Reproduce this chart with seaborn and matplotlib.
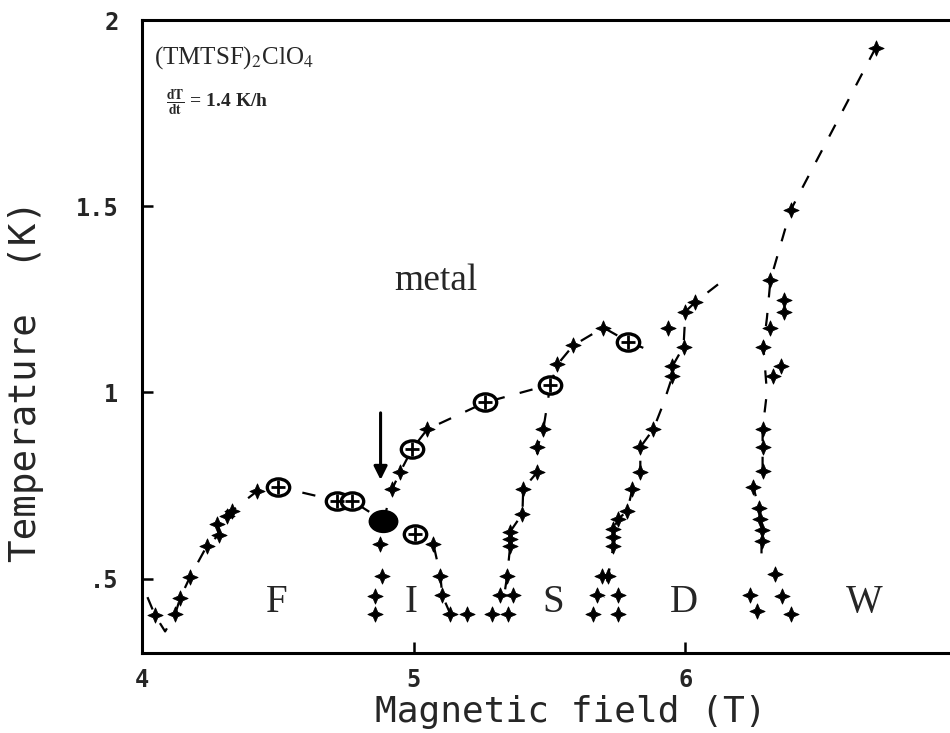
import matplotlib
matplotlib.use("Agg")
import matplotlib.pyplot as plt
import pandas as pd
import seaborn as sns

from matplotlib.path import Path
from matplotlib.transforms import Affine2D

# Phase boundaries of (TMTSF)2ClO4: field (T), temperature (K), mark
# mark: '+' cross, 'o' boxed cross, 'b' merged blob, '' dashed line only
f_field = [4.02, 4.048, 4.085, 4.122, 4.140, 4.177, 4.239, 4.284, 4.276,
           4.313, 4.331, 4.424, 4.501, 4.718, 4.773, 4.888]
f_temp = [0.45, 0.401, 0.358, 0.404, 0.447, 0.505, 0.588, 0.618, 0.647,
          0.668, 0.682, 0.735, 0.746, 0.709, 0.709, 0.655]
f_mark = ['', '+', '', '+', '+', '+', '+', '+', '+',
          '+', '+', '+', 'o', 'o', 'o', 'b']

metal_field = [4.888, 4.921, 4.950, 4.994, 5.050, 5.263, 5.503, 5.529,
               5.587, 5.698, 5.790, 5.86]
metal_temp = [0.655, 0.741, 0.786, 0.848, 0.901, 0.973, 1.021, 1.075,
              1.126, 1.174, 1.136, 1.115]
metal_mark = ['', '+', '+', 'o', '+', 'o', 'o', '+', '+', '+', 'o', '']

i_field = [4.888, 5.006, 5.072, 5.098, 5.105, 5.134]
i_temp = [0.655, 0.620, 0.594, 0.508, 0.455, 0.406]
i_mark = ['', 'o', '+', '+', '+', '+']

s_field = [5.503, 5.477, 5.455, 5.455, 5.403, 5.400, 5.355, 5.355, 5.355,
           5.344, 5.33]
s_temp = [1.021, 0.901, 0.853, 0.786, 0.741, 0.674, 0.626, 0.607, 0.588,
          0.508, 0.44]
s_mark = ['', '+', '+', '+', '+', '+', '+', '+', '+', '+', '']

d_field = [6.12, 6.037, 6.000, 5.993, 5.952, 5.952, 5.919, 5.882, 5.834,
           5.834, 5.805, 5.786, 5.753, 5.735, 5.735, 5.735, 5.716, 5.70]
d_temp = [1.29, 1.243, 1.217, 1.123, 1.070, 1.043, 0.97, 0.901, 0.853,
          0.786, 0.741, 0.682, 0.660, 0.634, 0.612, 0.588, 0.508, 0.45]
d_mark = ['', '+', '+', '+', '+', '+', '', '+', '+',
          '+', '+', '+', '+', '+', '+', '+', '+', '']

w_field = [6.700, 6.387, 6.313, 6.30, 6.287, 6.30, 6.284, 6.284, 6.284,
           6.250, 6.27, 6.275, 6.28, 6.28, 6.28]
w_temp = [1.925, 1.489, 1.302, 1.20, 1.123, 1.0, 0.901, 0.853, 0.789,
          0.746, 0.69, 0.66, 0.63, 0.60, 0.54]
w_mark = ['+', '+', '+', '', '+', '', '+', '+', '+',
          '+', '+', '+', '+', '+', '']

# crosses not joined by a line
loose_field = [4.877, 4.884, 4.858, 4.858, 5.197, 5.289, 5.348, 5.319, 5.366,
               5.694, 5.661, 5.750, 5.676, 5.753, 5.937, 6.361, 6.361, 6.313,
               6.350, 6.324, 6.331, 6.357, 6.387, 6.239, 6.265]
loose_temp = [0.594, 0.508, 0.452, 0.406, 0.406, 0.406, 0.406, 0.455, 0.455,
              0.508, 0.406, 0.406, 0.455, 0.455, 1.174, 1.249, 1.217, 1.174,
              1.070, 1.043, 0.513, 0.452, 0.406, 0.455, 0.412]

phase_labels = ['F', 'I', 'S', 'D', 'W']
phase_field = [4.494, 4.989, 5.513, 5.996, 6.657]

ytick_vals = [0.5, 1, 1.5, 2]
ytick_text = ['.5', '1', '1.5', '2']
xtick_vals = [4, 5, 6, 7]
xtick_text = ['4', '5', '6', '7']

# -----------------------------------------------------------------------------
curves = {'F': (f_field, f_temp, f_mark),
          'metal': (metal_field, metal_temp, metal_mark),
          'I': (i_field, i_temp, i_mark),
          'S': (s_field, s_temp, s_mark),
          'D': (d_field, d_temp, d_mark),
          'W': (w_field, w_temp, w_mark)}
df = pd.concat([pd.DataFrame({'field': b, 'temp': t, 'mark': m, 'curve': k})
                for k, (b, t, m) in curves.items()], ignore_index=True)

crosses = pd.concat([df.loc[df['mark'] == '+', ['field', 'temp']],
                     pd.DataFrame({'field': loose_field, 'temp': loose_temp})],
                    ignore_index=True)
boxes = df[df['mark'] == 'o']
blobs = df[df['mark'] == 'b']

star = Path.unit_regular_star(4, 0.42)
ring = Path.unit_circle().transformed(Affine2D().scale(1.3, 1.0))

sns.set_style('ticks')
plt.rcParams['mathtext.fontset'] = 'stix'
mono = 'DejaVu Sans Mono'
serif = 'Liberation Serif'

fig = plt.figure(figsize=(9.5, 7.33), dpi=100)
ax = fig.add_axes([0.1495, 0.1091, 0.858, 0.8636])

sns.lineplot(data=df, x='field', y='temp', units='curve', estimator=None,
             sort=False, color='k', lw=1.6, linestyle=(0, (6, 7)),
             legend=False, ax=ax, zorder=1)
sns.scatterplot(data=crosses, x='field', y='temp', marker=star, s=120,
                color='k', edgecolor='k', linewidth=0.6, ax=ax, zorder=3)
sns.scatterplot(data=boxes, x='field', y='temp', marker=ring, s=260,
                color='white', edgecolor='k', linewidth=2.4, ax=ax, zorder=4)
sns.scatterplot(data=boxes, x='field', y='temp', marker='+', s=110,
                color='k', linewidth=2.0, ax=ax, zorder=5)
sns.scatterplot(data=blobs, x='field', y='temp', marker=ring, s=420,
                color='k', edgecolor='k', linewidth=1, ax=ax, zorder=4)

ax.annotate('', xy=(4.878, 0.765), xytext=(4.878, 0.945),
            arrowprops=dict(arrowstyle='-|>', color='k', lw=2.2,
                            mutation_scale=20, shrinkA=0, shrinkB=0))

for lab, b in zip(phase_labels, phase_field):
    ax.text(b, 0.435, lab, family=serif, fontsize=28, ha='center',
            va='center')
ax.text(5.08, 1.30, 'metal', family=serif, fontsize=27, ha='center',
        va='center')
ax.text(0.015, 0.94, '(TMTSF)$_2$ClO$_4$', family=serif, fontsize=18,
        ha='left', va='center', transform=ax.transAxes)
ax.text(0.03, 0.869, r'$\mathbf{\frac{dT}{dt}}$ = 1.4 K/h', family=serif,
        fontsize=14, fontweight='bold', ha='left', va='center',
        transform=ax.transAxes)

ax.set_xlim(4, 7)
ax.set_ylim(0.3, 2.0)
ax.set_xticks(xtick_vals, xtick_text)
ax.set_yticks(ytick_vals, ytick_text)
for lbl in ax.get_xticklabels() + ax.get_yticklabels():
    lbl.set_family(mono)
    lbl.set_fontweight('bold')
    lbl.set_fontsize(17)
ax.tick_params(direction='in', length=8, width=1.8, color='k')
ax.tick_params(axis='x', pad=11)
ax.tick_params(axis='y', pad=17)
for sp in ax.spines.values():
    sp.set_linewidth(2.2)
    sp.set_color('k')

ax.set_xlabel('Magnetic field (T)', family=mono, fontsize=26, va='center')
ax.set_ylabel('Temperature  (K)', family=mono, fontsize=27, va='center')
ax.xaxis.set_label_coords(0.526, -0.093)
ax.yaxis.set_label_coords(-0.142, 0.43)

fig.savefig('out.png', dpi=100)
